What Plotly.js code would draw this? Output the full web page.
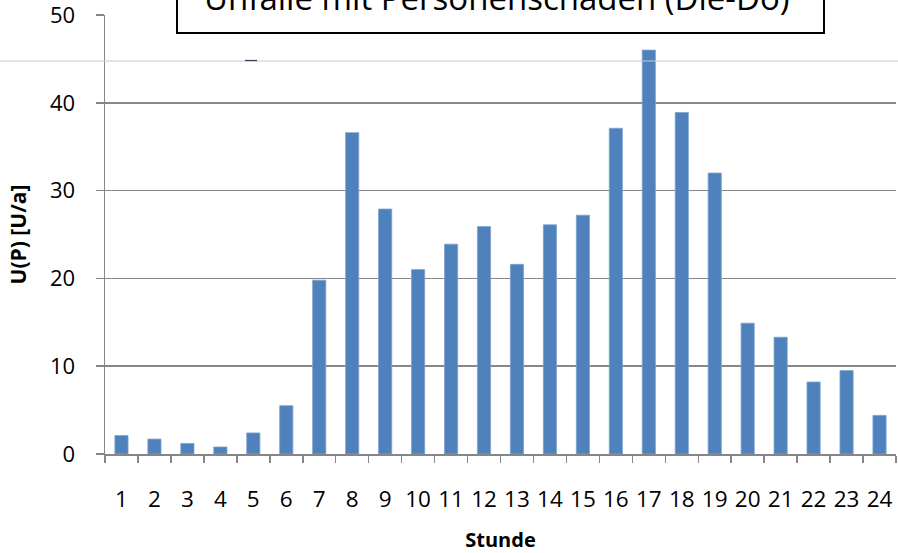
<!DOCTYPE html>
<html>
<head>
<meta charset="utf-8">
<script src="https://cdn.plot.ly/plotly-3.0.1.min.js"></script>
<style>html,body{margin:0;padding:0;background:#fff}#chart{width:898px;height:553px}</style>
</head>
<body>
<div id="chart"></div>
<script>
const hours = ['1','2','3','4','5','6','7','8','9','10','11','12','13','14','15','16','17','18','19','20','21','22','23','24'];
const accidents = [2.1, 1.7, 1.2, 0.8, 2.4, 5.5, 19.8, 36.6, 27.9, 21.0, 23.9, 25.9, 21.6, 26.1, 27.2, 37.1, 46.0, 38.9, 32.0, 14.9, 13.3, 8.2, 9.5, 4.4];
const yTicks = [0, 10, 20, 30, 40, 50];
const titleText = 'Unfälle mit Personenschäden (Die-Do)';
const xTitle = 'Stunde';
const yTitle = 'U(P) [U/a]';

const L = 105, R = 896, T = 15, B = 454;
const W = 898, H = 553;
const px = x => (x - L) / (R - L);
const py = y => (B - y) / (B - T);

const font = 'Open Sans, Lato, sans-serif';

const trace = {
  type: 'bar',
  x: hours,
  y: accidents,
  marker: {color: '#4f81bd', line: {color: '#7ea2cf', width: 0.8}},
  hoverinfo: 'x+y'
};

const layout = {
  width: W, height: H,
  margin: {l: L, r: W - R, t: T, b: H - B, pad: 0},
  paper_bgcolor: '#ffffff',
  plot_bgcolor: '#ffffff',
  showlegend: false,
  bargap: 0.6,
  font: {family: font, color: '#000', size: 22},
  xaxis: {
    type: 'category',
    showgrid: false,
    showline: true, linecolor: '#868686', linewidth: 1.5,
    ticks: 'outside', tickson: 'boundaries', ticklen: 7, tickcolor: '#868686', tickwidth: 1.5,
    tickangle: 0,
    ticklabelstandoff: 24,
    ticklabeloverflow: 'allow',
    tickfont: {family: font, size: 22.5, color: '#000'},
    title: {text: xTitle, font: {family: font, size: 20, color: '#000', weight: 'bold'}, standoff: 22},
    fixedrange: true
  },
  yaxis: {
    range: [0, 50],
    tickmode: 'array',
    tickvals: yTicks,
    ticktext: yTicks.map(String),
    showgrid: true, gridcolor: '#878787', gridwidth: 1.5,
    zeroline: false,
    showline: true, linecolor: '#868686', linewidth: 1.5,
    ticks: 'outside', ticklen: 8, tickcolor: '#868686', tickwidth: 1.5,
    ticklabelstandoff: 16,
    ticklabeloverflow: 'allow',
    tickfont: {family: font, size: 22, color: '#000'},
    title: {text: yTitle, font: {family: font, size: 21, color: '#000', weight: 'bold'}, standoff: 17},
    fixedrange: true
  },
  shapes: [
    {type: 'line', xref: 'paper', yref: 'paper', x0: px(0), x1: px(898), y0: py(61), y1: py(61),
     line: {color: '#c6c6da', width: 1}, layer: 'above'},
    {type: 'line', xref: 'paper', yref: 'paper', x0: px(245), x1: px(257), y0: py(60.5), y1: py(60.5),
     line: {color: '#3a3a50', width: 1.2}, layer: 'above'},
    {type: 'rect', xref: 'paper', yref: 'paper', x0: px(177), x1: px(824), y0: py(33), y1: py(-30),
     fillcolor: '#ffffff', line: {color: '#000000', width: 2}, layer: 'above'}
  ],
  annotations: [
    {text: titleText, xref: 'paper', yref: 'paper', x: px(497), y: py(-2), xanchor: 'center', yanchor: 'middle',
     showarrow: false, font: {family: font, size: 33, color: '#000'}}
  ]
};

Plotly.newPlot('chart', [trace], layout, {displayModeBar: false, staticPlot: true});
</script>
</body>
</html>
